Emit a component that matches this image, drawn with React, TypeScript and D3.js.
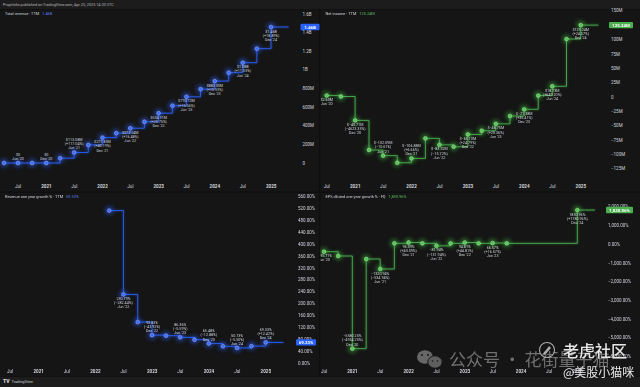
import React from 'react';
import * as d3 from 'd3';

const W = 640;
const H = 387;
const parse = d3.timeParse('%Y-%m-%d');
const fmtDate = d3.timeFormat("%b '%y");

// ---------- DATA ----------
const quarterEnds = [
  '2020-03-31', '2020-06-30', '2020-09-30', '2020-12-31',
  '2021-03-31', '2021-06-30', '2021-09-30', '2021-12-31',
  '2022-03-31', '2022-06-30', '2022-09-30', '2022-12-31',
  '2023-03-31', '2023-06-30', '2023-09-30', '2023-12-31',
  '2024-03-31', '2024-06-30', '2024-09-30', '2024-12-31',
];
// Total revenue TTM, millions USD
const revenueTTM = [0, 0, 0, 0, 52.1, 113.08, 193.9, 271.83, 320.7, 373.54, 443, 534.91, 615, 710.72, 793.3, 880, 970, 1077, 1228, 1460];
// Net income TTM, millions USD (from Jun 2020)
const netIncomeDates = quarterEnds.slice(1);
const netIncomeTTM = [2.6, 0.9, -40.71, -92.3, -102.09, -114.5, -106.88, -72, -83.32, -86.6, -65.13, -58.7, -46.75, -33.1, -21.38, 2.5, 18.73, 100.94, 125.24];
// Revenue one-year growth TTM, % (from Mar 2022)
const growthDates = quarterEnds.slice(8);
const revenueGrowth = [513.23, 230.79, 137.75, 93.83, 91.95, 86.36, 78.36, 65.48, 56.23, 50.73, 56.91, 69.33];
// EPS diluted one-year growth FQ, %
const epsDates = [
  '2020-06-30', '2020-09-30', '2020-12-31', '2021-03-31', '2021-06-30', '2021-09-30', '2021-12-31',
  '2022-03-31', '2022-06-30', '2022-09-30', '2022-12-31', '2023-03-31', '2023-06-30', '2023-09-30', '2024-12-31',
];
const epsGrowth = [-395.71, -626, -5580.25, -786, -1320.94, 53, 96.09, 50, -81.94, 50, 94.81, 50, 66.57, 50, 1830.96];

const xTickDates = ['2020-07-01', '2021-01-01', '2021-07-01', '2022-01-01', '2022-07-01', '2023-01-01', '2023-07-01', '2024-01-01', '2024-07-01', '2025-01-01'];
const revenueTicks = [0, 200, 400, 600, 800, 1000, 1200, 1400, 1600];
const netIncomeTicks = [-125, -100, -75, -50, -25, 0, 25, 50, 75, 100, 150];
const growthTicks = [0, 40, 80, 120, 160, 200, 240, 280, 320, 360, 400, 440, 480, 520, 560];
const epsTicks = [-6000, -5000, -4000, -3000, -2000, -1000, 0, 1000, 2000];

const revenueLabelSides = ['above', 'above', 'above', 'below', 'below', 'below', 'below', 'below', 'below', 'below'];
const netIncomeLabelSides = ['below', 'below', 'above', 'above', 'below', 'below', 'below', 'below', 'below', 'below'];
const growthLabelSides = ['below', 'above', 'above', 'above', 'above', 'above'];
const epsLabelSides = ['below', 'above', 'below', 'below', 'below', 'below', 'below', 'below'];

const snapshotDate = '2025-04-25';

// ---------- STYLE ----------
const FONT = "Roboto, 'Noto Sans', 'DejaVu Sans', sans-serif";
const CJK = "'Noto Sans CJK SC', sans-serif";
const TXT = '#d1d4dc';
const BLUE = { line: '#2962ff', fill: '#3f6cf5', ring: '#9fb4f5', glow: '#2f5fff', badge: '#2962ff', title: '#5a7dff' };
const GREEN = { line: '#4caf50', fill: '#52c452', ring: '#b4e6b4', glow: '#3fb83f', badge: '#4caf50', title: '#5cbf60' };

const minus = (s: string) => s.replace(/-/g, '\u2212');
const sgn = (v: number) => (v >= 0 ? '+' : '');

const fmtRevenue = (v: number) => (v === 0 ? '$0' : v >= 1000 ? `$${(v / 1000).toFixed(2)}B` : `$${v.toFixed(2)}M`);
const fmtMoney = (v: number) => `$${v.toFixed(2)}M`;
const fmtPct = (v: number) => `${v.toFixed(2)}%`;
const relChange = (v: number, p: number | null) => (p === null || p === 0 ? null : `(${sgn((v - p) / Math.abs(p))}${(((v - p) / Math.abs(p)) * 100).toFixed(2)}%)`);
const diffChange = (v: number, p: number | null) => (p === null ? null : `(${sgn(v - p)}${(v - p).toFixed(2)}%)`);

interface PanelProps {
  id: string;
  left: number; right: number; top: number; bottom: number;
  xRange: [number, number];
  yDomain: [number, number]; yRange: [number, number];
  ticks: number[]; tickFmt: (v: number) => string; axisX: number;
  xLabelY: number;
  dates: string[]; values: number[]; sides: string[];
  valueFmt: (v: number) => string; changeFmt: (v: number, p: number | null) => string | null;
  col: typeof BLUE;
  title: string; titleValue: string; badge: string; badgeW: number;
}

function Panel(p: PanelProps) {
  const x = d3.scaleTime().domain([parse('2020-06-30')!, parse('2024-12-31')!]).range(p.xRange);
  const y = d3.scaleLinear().domain(p.yDomain).range(p.yRange);
  const pts = p.dates.map((d, i) => ({ d: parse(d)!, v: p.values[i] }));
  const last = pts[pts.length - 1];
  const line = d3.line<{ d: Date; v: number }>().x(q => x(q.d)).y(q => y(q.v)).curve(d3.curveStepAfter);
  const pathD = line([...pts, { d: parse(snapshotDate)!, v: last.v }]) || '';

  const labels: { x: number; y: number; lines: string[]; side: string }[] = [];
  let k = 0;
  pts.forEach((q, i) => {
    const m = q.d.getMonth();
    if (m === 5 || m === 11) {
      const side = p.sides[k++] || 'below';
      const prev = i > 0 ? pts[i - 1].v : null;
      const ch = p.changeFmt(q.v, prev);
      const lines = [p.valueFmt(q.v), ...(ch ? [ch] : []), fmtDate(q.d)];
      labels.push({ x: x(q.d), y: y(q.v), lines, side });
    }
  });

  const LH = 4.2;
  const clipId = `clip-${p.id}`;
  const by = y(last.v);
  return (
    <g>
      <defs>
        <clipPath id={clipId}>
          <rect x={p.left} y={p.top} width={p.right - p.left} height={p.bottom - p.top} />
        </clipPath>
      </defs>
      <g fontFamily={FONT} fontSize={4.5} fill={TXT}>
        {p.ticks.map(t => (
          <text key={t} x={p.axisX} y={y(t)} dy="0.35em">{minus(p.tickFmt(t))}</text>
        ))}
      </g>
      <g fontFamily={FONT} fontSize={4.6} fill={TXT} textAnchor="middle">
        {xTickDates.map(s => {
          const d = parse(s)!;
          const isYear = d.getMonth() === 0;
          return (
            <text key={s} x={x(d)} y={p.xLabelY} dy="0.35em" fontWeight={isYear ? 700 : 400}>
              {isYear ? d3.timeFormat('%Y')(d) : d3.timeFormat('%b')(d)}
            </text>
          );
        })}
      </g>
      <g clipPath={`url(#${clipId})`}>
        <path d={pathD} fill="none" stroke={p.col.glow} strokeWidth={2} opacity={0.28} filter="url(#blurS)" />
        <g filter="url(#blurL)">
          {pts.map((q, i) => (
            <circle key={i} cx={x(q.d)} cy={y(q.v)} r={4} fill={p.col.glow} opacity={0.55} />
          ))}
        </g>
        <path d={pathD} fill="none" stroke={p.col.line} strokeWidth={0.9} />
        {pts.map((q, i) => (
          <circle key={i} cx={x(q.d)} cy={y(q.v)} r={1.9} fill={p.col.fill} stroke={p.col.ring} strokeWidth={0.5} />
        ))}
        <g fontFamily={FONT} fontSize={3.7} fill={TXT} textAnchor="middle">
          {labels.map((l, i) => (
            <g key={i}>
              {l.lines.map((s, j) => {
                const yy = l.side === 'above'
                  ? l.y - 3 - (l.lines.length - 1 - j) * LH
                  : l.y + 5.5 + j * LH;
                return <text key={j} x={l.x} y={yy}>{minus(s)}</text>;
              })}
            </g>
          ))}
        </g>
      </g>
      <text x={p.left + 5} y={p.top + 5.3} fontFamily={FONT} fontSize={3.9} fill={TXT}>
        {p.title}
        <tspan dx={3} fill={p.col.title}>{p.titleValue}</tspan>
      </text>
      <rect x={p.axisX - 2} y={by - 3.2} width={p.badgeW} height={6.4} rx={1} fill={p.col.badge} />
      <text x={p.axisX - 2 + p.badgeW / 2} y={by} dy="0.35em" textAnchor="middle" fontFamily={FONT} fontSize={4.4} fontWeight={700} fill="#ffffff">{p.badge}</text>
    </g>
  );
}

export default function App() {
  return (
    <svg width={W} height={H} viewBox={`0 0 ${W} ${H}`} style={{ position: 'fixed', left: 0, top: 0, display: 'block', background: '#0f0f0f' }}>
      <defs>
        <filter id="blurL" x="-50%" y="-50%" width="200%" height="200%"><feGaussianBlur stdDeviation={1.9} /></filter>
        <filter id="blurS" x="-10%" y="-10%" width="120%" height="120%"><feGaussianBlur stdDeviation={0.9} /></filter>
      </defs>
      <rect x={0} y={0} width={W} height={H} fill="#0f0f0f" />
      <rect x={0} y={0} width={W} height={9} fill="#1c1c1c" />
      <text x={3} y={5.6} fontFamily={FONT} fontSize={3.8} fill="#b8b8b8">Proptfolio published on TradingView.com, Apr 25, 2025 14:20 UTC</text>
      <rect x={0} y={9.5} width={319} height={182} fill="#151515" />
      <rect x={320.5} y={9.5} width={319.5} height={182} fill="#151515" />
      <rect x={0} y={193} width={319} height={183.5} fill="#151515" />
      <rect x={320.5} y={193} width={319.5} height={183.5} fill="#151515" />
      <rect x={0} y={377} width={W} height={10} fill="#1c1c1c" />
      <text x={3} y={383} fontFamily={FONT} fontSize={5} fontWeight={900} fill="#d8d8d8">TV</text>
      <text x={11.5} y={382.8} fontFamily={FONT} fontSize={3.9} fill="#cfcfcf">TradingView</text>

      <Panel id="rev" left={0} right={298} top={9.5} bottom={181}
        xRange={[18, 271]} yDomain={[0, 1600]} yRange={[163, 14]}
        ticks={revenueTicks} tickFmt={v => (v === 0 ? '0' : v >= 1000 ? `${v / 1000}B` : `${v}M`)} axisX={302.5}
        xLabelY={186} dates={quarterEnds} values={revenueTTM} sides={revenueLabelSides}
        valueFmt={fmtRevenue} changeFmt={relChange} col={BLUE}
        title="Total revenue · TTM" titleValue="1.46B" badge="1.46B" badgeW={19} />

      <Panel id="ni" left={320.5} right={607} top={9.5} bottom={181}
        xRange={[326.7, 580.7]} yDomain={[-125, 150]} yRange={[168.8, 10.9]}
        ticks={netIncomeTicks} tickFmt={v => (v === 0 ? '0' : `${v}M`)} axisX={611}
        xLabelY={186} dates={netIncomeDates} values={netIncomeTTM} sides={netIncomeLabelSides}
        valueFmt={fmtMoney} changeFmt={relChange} col={GREEN}
        title="Net income · TTM" titleValue="125.24M" badge="125.24M" badgeW={24} />

      <Panel id="gr" left={0} right={292} top={193} bottom={366}
        xRange={[9.9, 265.7]} yDomain={[0, 560]} yRange={[363, 196.7]}
        ticks={growthTicks} tickFmt={v => `${v.toFixed(2)}%`} axisX={298}
        xLabelY={371} dates={growthDates} values={revenueGrowth} sides={growthLabelSides}
        valueFmt={fmtPct} changeFmt={diffChange} col={BLUE}
        title="Revenue one year growth % · TTM" titleValue="69.33%" badge="69.33%" badgeW={20} />

      <Panel id="eps" left={320.5} right={605} top={193} bottom={366}
        xRange={[324, 577.3]} yDomain={[-6000, 2000]} yRange={[356.5, 206.9]}
        ticks={epsTicks} tickFmt={v => `${d3.format(',.2f')(v)}%`} axisX={608}
        xLabelY={371} dates={epsDates} values={epsGrowth} sides={epsLabelSides}
        valueFmt={fmtPct} changeFmt={diffChange} col={GREEN}
        title="EPS diluted one year growth % · FQ" titleValue="1,830.96%" badge="1,830.96%" badgeW={27} />

      <g opacity={0.62}>
        <ellipse cx={425} cy={357} rx={8} ry={6.8} fill="#9a9a9a" />
        <ellipse cx={435} cy={362} rx={7.2} ry={6.2} fill="#8c8c8c" stroke="#151515" strokeWidth={1} />
        <circle cx={422} cy={355} r={1} fill="#151515" />
        <circle cx={428} cy={355} r={1} fill="#151515" />
        <circle cx={432.5} cy={361} r={0.8} fill="#151515" />
        <circle cx={437.5} cy={361} r={0.8} fill="#151515" />
        <text x={449} y={366} fontFamily={CJK} fontSize={17} fill="#a8a8a8">公众号 · 花街量子猫</text>
      </g>
      <circle cx={547} cy={350} r={7.5} fill="none" stroke="#d0d0d0" strokeWidth={1.1} opacity={0.8} />
      <path d="M543 354 L549 346 L551 348 L545 355 Z" fill="#d0d0d0" opacity={0.8} />
      <text x={563} y={357} fontFamily={CJK} fontSize={16} fontWeight={500} fill="#e6e6e6">老虎社区</text>
      <text x={563} y={376.5} fontFamily={CJK} fontSize={12} fill="#e6e6e6">@美股小猫咪</text>
    </svg>
  );
}
